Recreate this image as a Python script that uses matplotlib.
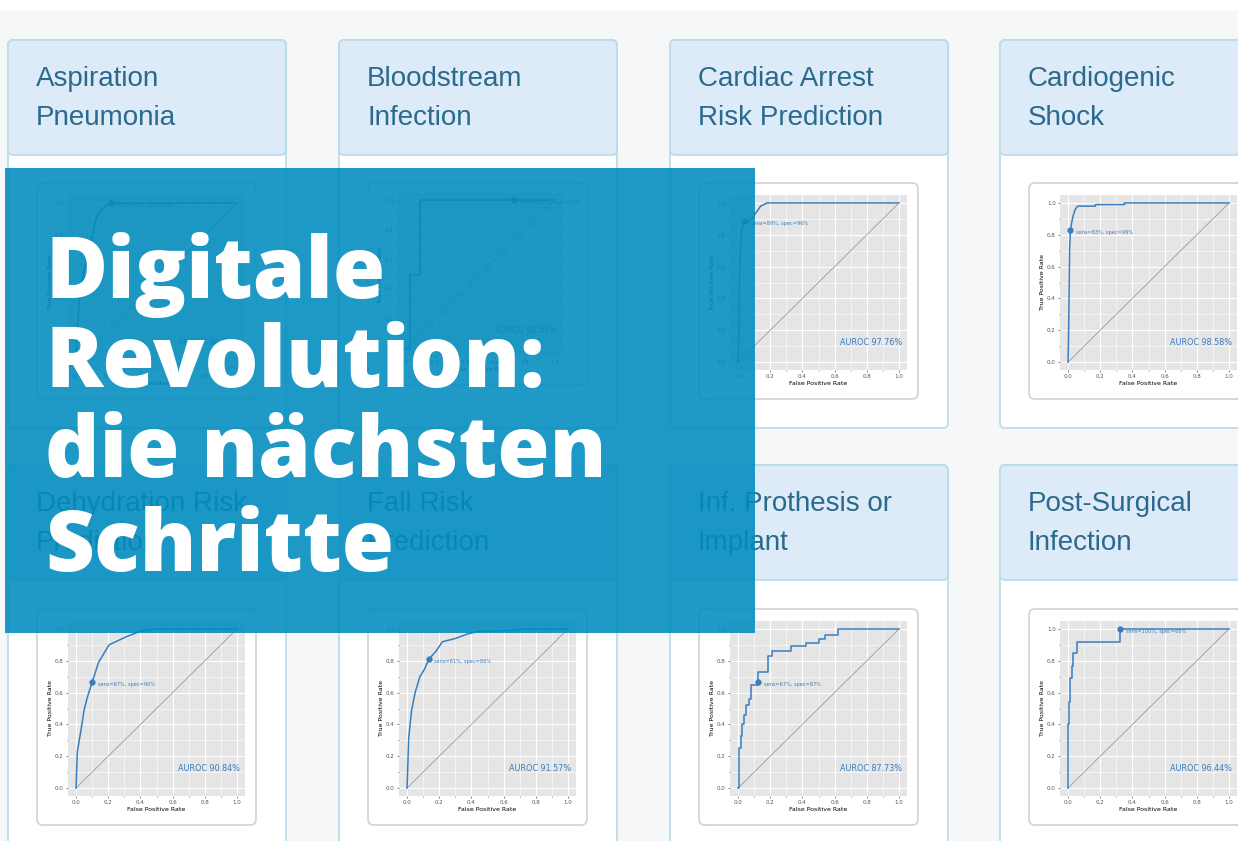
import numpy as np
import matplotlib.pyplot as plt
from matplotlib.patches import Rectangle, FancyBboxPatch
from matplotlib.ticker import MultipleLocator

W, H = 1252, 841

########## Data ##########
titles = ['Aspiration\nPneumonia', 'Bloodstream\nInfection',
          'Cardiac Arrest\nRisk Prediction', 'Cardiogenic\nShock',
          'Dehydration Risk\nPrediction', 'Fall Risk\nPrediction',
          'Inf. Prothesis or\nImplant', 'Post-Surgical\nInfection']

fpr_asp = [0, 0.005, 0.01, 0.02, 0.04, 0.06, 0.09, 0.11, 0.13, 0.16, 0.18, 0.22, 1.0]
tpr_asp = [0, 0.15, 0.25, 0.38, 0.52, 0.63, 0.73, 0.84, 0.92, 0.96, 0.98, 1.0, 1.0]

fpr_blood = [0, 0.03, 0.03, 0.095, 0.095, 1.0]
tpr_blood = [0, 0.0, 0.5, 0.5, 1.0, 1.0]

fpr_cardiac = [0, 0.004, 0.006, 0.01, 0.02, 0.03, 0.044, 0.07, 0.09, 0.12, 0.14, 0.16, 0.18, 1.0]
tpr_cardiac = [0, 0.15, 0.31, 0.62, 0.80, 0.86, 0.885, 0.89, 0.91, 0.95, 0.98, 0.99, 1.0, 1.0]

fpr_shock = [0, 0.003, 0.005, 0.01, 0.015, 0.025, 0.035, 0.045, 0.06, 0.17, 0.17, 0.35, 0.35, 1.0]
tpr_shock = [0, 0.15, 0.31, 0.73, 0.83, 0.89, 0.93, 0.96, 0.98, 0.98, 0.99, 0.99, 1.0, 1.0]

fpr_dehyd = [0, 0.004, 0.008, 0.03, 0.05, 0.07, 0.10, 0.14, 0.205, 0.31, 0.41, 0.51, 1.0]
tpr_dehyd = [0, 0.12, 0.23, 0.36, 0.49, 0.57, 0.665, 0.79, 0.90, 0.95, 0.99, 1.0, 1.0]

fpr_fall = [0, 0.005, 0.01, 0.027, 0.05, 0.08, 0.11, 0.135, 0.18, 0.22, 0.30, 0.38, 0.45, 0.63, 0.73, 1.0]
tpr_fall = [0, 0.15, 0.31, 0.48, 0.60, 0.70, 0.75, 0.81, 0.86, 0.92, 0.94, 0.97, 0.985, 0.99, 1.0, 1.0]

fpr_prot = [0, 0.006, 0.006, 0.017, 0.017, 0.027, 0.027, 0.038, 0.038, 0.048, 0.048, 0.065, 0.065,
            0.08, 0.08, 0.125, 0.125, 0.185, 0.185, 0.21, 0.21, 0.33, 0.33, 0.425, 0.425,
            0.50, 0.50, 0.54, 0.54, 0.62, 0.62, 1.0]
tpr_prot = [0, 0.0, 0.25, 0.25, 0.33, 0.33, 0.40, 0.40, 0.46, 0.46, 0.52, 0.52, 0.56,
            0.56, 0.65, 0.65, 0.73, 0.73, 0.83, 0.83, 0.86, 0.86, 0.89, 0.89, 0.91,
            0.91, 0.94, 0.94, 0.96, 0.96, 1.0, 1.0]

fpr_post = [0, 0.002, 0.002, 0.006, 0.006, 0.013, 0.013, 0.023, 0.023, 0.03, 0.03, 0.055, 0.055,
            0.325, 0.325, 1.0]
tpr_post = [0, 0.0, 0.40, 0.40, 0.54, 0.54, 0.69, 0.69, 0.77, 0.77, 0.85, 0.85, 0.92,
            0.92, 1.0, 1.0]

fprs = [fpr_asp, fpr_blood, fpr_cardiac, fpr_shock, fpr_dehyd, fpr_fall, fpr_prot, fpr_post]
tprs = [tpr_asp, tpr_blood, tpr_cardiac, tpr_shock, tpr_dehyd, tpr_fall, tpr_prot, tpr_post]

op_fpr = [0.22, 0.73, 0.044, 0.015, 0.10, 0.135, 0.125, 0.325]
op_tpr = [1.0, 1.0, 0.885, 0.83, 0.665, 0.81, 0.665, 1.0]
op_text = ['sens=99%, spec=78%', 'sens=100%, spec=27%', 'sens=89%, spec=96%',
           'sens=83%, spec=99%', 'sens=67%, spec=90%', 'sens=81%, spec=86%',
           'sens=67%, spec=87%', 'sens=100%, spec=68%']
auroc = ['AUROC 94.84%', 'AUROC 92.51%', 'AUROC 97.76%', 'AUROC 98.58%',
         'AUROC 90.84%', 'AUROC 91.57%', 'AUROC 87.73%', 'AUROC 96.44%']

headline = ['Digitale', 'Revolution:', 'die nächsten', 'Schritte']

########## Layout ##########
card_x = [8, 339, 670, 1000]
card_w = 278
row_top = [40, 465]
row_bot = [428, 880]
head_h = 115
box_top = [183, 609]

blue = '#3a7dbf'
page = '#f6f7f9'

fig = plt.figure(figsize=(W / 100, H / 100), dpi=100)
fig.patch.set_facecolor('white')

bg = fig.add_axes([0, 0, 1, 1], zorder=-1)
bg.set_xlim(0, W)
bg.set_ylim(H, 0)
bg.axis('off')
bg.add_patch(Rectangle((0, 10), 1238, H, color=page, lw=0))

def to_fig(x, y, w, h):
    return [x / W, 1 - (y + h) / H, w / W, h / H]

for i in range(8):
    r, c = divmod(i, 4)
    x0 = card_x[c]
    y0 = row_top[r]
    # card body + header
    bg.add_patch(FancyBboxPatch((x0, y0), card_w, row_bot[r] - y0,
                                boxstyle='round,pad=0,rounding_size=5',
                                fc='white', ec='#b8dbea', lw=1.2))
    bg.add_patch(FancyBboxPatch((x0, y0), card_w, head_h,
                                boxstyle='round,pad=0,rounding_size=5',
                                fc='#dcebf7', ec='#b8dbea', lw=1.2))
    line1, line2 = titles[i].split('\n')
    bg.text(x0 + 28, y0 + 39, line1, fontsize=20,
            family='Liberation Sans', color='#2b6a8e', va='center')
    bg.text(x0 + 28, y0 + 78, line2, fontsize=20,
            family='Liberation Sans', color='#2b6a8e', va='center')

    # inner chart frame and axes
    if i == 1:
        bx, by, bw, bh = x0 + 29, box_top[r], 220, 202
        ax_rect = to_fig(x0 + 59, by + 10, 164, 163)
    else:
        bx, by, bw, bh = x0 + 29, box_top[r], 219, 216
        ax_rect = to_fig(x0 + 60, by + 12, 177, 175)
    bg.add_patch(FancyBboxPatch((bx, by), bw, bh,
                                boxstyle='round,pad=0,rounding_size=6',
                                fc='white', ec='#d2d2d2', lw=1.2))

    ax = fig.add_axes(ax_rect, zorder=1)
    ax.set_facecolor('#e5e5e5')
    for s in ax.spines.values():
        s.set_visible(False)
    ax.xaxis.set_major_locator(MultipleLocator(0.2))
    ax.yaxis.set_major_locator(MultipleLocator(0.2))
    ax.xaxis.set_minor_locator(MultipleLocator(0.1))
    ax.yaxis.set_minor_locator(MultipleLocator(0.1))
    ax.grid(which='major', color='white', lw=0.8)
    ax.grid(which='minor', color='white', lw=0.4)
    ax.set_axisbelow(True)
    ax.tick_params(which='both', labelsize=4, colors='#555555', length=1.5, width=0.5, pad=1.5)
    ax.tick_params(which='minor', length=1)
    ax.plot([0, 1], [0, 1], color='#8c8c8c', lw=0.5)
    ax.plot(fprs[i], tprs[i], color=blue, lw=1.1)
    ax.plot(op_fpr[i], op_tpr[i], 'o', color=blue, ms=3.5)
    ax.annotate(op_text[i], (op_fpr[i], op_tpr[i]), xytext=(4, -1.5),
                textcoords='offset points', fontsize=3.6, color=blue, va='center')
    ax.text(1.02, 0.12, auroc[i], fontsize=5.8, color=blue, ha='right', va='center')
    ax.set_xlim(-0.05, 1.05)
    ax.set_ylim(-0.05, 1.05)
    ax.set_xlabel('False Positive Rate', fontsize=4.5, labelpad=1.5)
    ax.set_ylabel('True Positive Rate', fontsize=4.5, labelpad=1.5)

# page edge on the right
fig.add_artist(Rectangle((1238 / W, 0), 14 / W, 1, transform=fig.transFigure,
                         color='white', lw=0, zorder=5))

# blue overlay and headline
fig.add_artist(Rectangle((5 / W, 1 - 633 / H), 750 / W, 465 / H, transform=fig.transFigure,
                         color='#008cbe', alpha=0.88, lw=0, zorder=10))
baselines = [298, 387, 477, 571]
for txt, yb in zip(headline, baselines):
    fig.text(45 / W, 1 - yb / H, txt, fontsize=61, fontweight=800, family='Open Sans',
             color='white', va='baseline', ha='left', zorder=11)

fig.savefig('out.png', dpi=100)
